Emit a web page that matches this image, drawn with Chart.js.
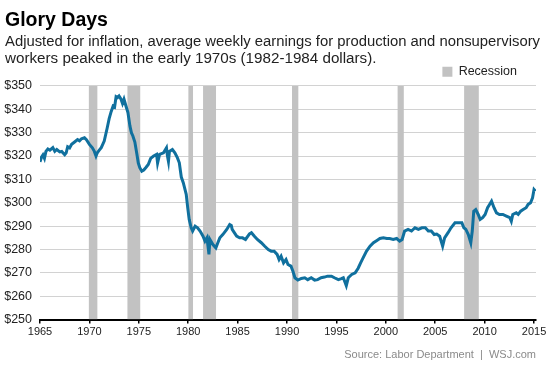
<!DOCTYPE html>
<html>
<head>
<meta charset="utf-8">
<script src="https://cdn.jsdelivr.net/npm/chart.js@4"></script>
<style>
  html, body { margin: 0; padding: 0; background: #fff; }
</style>
</head>
<body>
<canvas id="chart" width="553" height="369"></canvas>
<script>
// Decimal years for the earnings line
const months = [
  1965.0, 1965.15, 1965.3, 1965.45, 1965.6, 1965.8, 1966.0, 1966.3, 1966.5, 1966.7,
  1967.0, 1967.2, 1967.5, 1967.65, 1967.8, 1968.0, 1968.2, 1968.5, 1968.8, 1969.0,
  1969.2, 1969.5, 1969.7, 1970.0, 1970.3, 1970.5, 1970.67, 1970.8, 1971.0, 1971.2,
  1971.5, 1971.8, 1972.0, 1972.2, 1972.4, 1972.55, 1972.7, 1972.85, 1973.0, 1973.2,
  1973.35, 1973.5, 1973.7, 1973.9, 1974.1, 1974.25, 1974.4, 1974.6, 1974.8, 1974.95,
  1975.1, 1975.3, 1975.5, 1975.7, 1975.96, 1976.2, 1976.5, 1976.8, 1976.9, 1977.1,
  1977.5, 1977.8, 1977.9, 1978.0, 1978.1, 1978.4, 1978.65, 1978.9, 1979.1, 1979.3,
  1979.5, 1979.8, 1979.95, 1980.1, 1980.3, 1980.45, 1980.7, 1980.95, 1981.2, 1981.5,
  1981.7, 1981.9, 1982.1, 1982.2, 1982.5, 1982.8, 1983.0, 1983.2, 1983.5, 1983.9,
  1984.2, 1984.36, 1984.45, 1984.7, 1984.9, 1985.2, 1985.5, 1985.8, 1986.2, 1986.4,
  1986.7, 1987.0, 1987.4, 1987.75, 1988.1, 1988.4, 1988.7, 1989.0, 1989.2, 1989.4,
  1989.65, 1989.9, 1990.1, 1990.4, 1990.6, 1990.8, 1991.1, 1991.45, 1991.8, 1992.1,
  1992.45, 1992.8, 1993.1, 1993.45, 1993.8, 1994.1, 1994.5, 1994.8, 1995.2, 1995.5,
  1995.7, 1996.0, 1996.2, 1996.55, 1996.9, 1997.2, 1997.45, 1997.7, 1998.05, 1998.4,
  1998.75, 1999.1, 1999.4, 1999.75, 2000.1, 2000.4, 2000.75, 2001.1, 2001.4, 2001.65,
  2001.9, 2002.25, 2002.6, 2002.95, 2003.3, 2003.65, 2004.0, 2004.3, 2004.6, 2004.9,
  2005.15, 2005.45, 2005.75, 2005.95, 2006.3, 2006.6, 2007.0, 2007.35, 2007.7, 2007.9,
  2008.1, 2008.35, 2008.6, 2008.75, 2008.9, 2009.1, 2009.35, 2009.55, 2009.8, 2010.05,
  2010.3, 2010.5, 2010.7, 2010.95, 2011.2, 2011.5, 2011.85, 2012.2, 2012.55, 2012.7,
  2012.85, 2013.2, 2013.4, 2013.65, 2013.9, 2014.2, 2014.4, 2014.65, 2014.85, 2015.0,
  2015.15
];
// Average weekly earnings, 1982-1984 dollars
const earnings = [
  317.5, 319.5, 320.5, 319.0, 322.0, 323.0, 322.5, 323.6, 322.0, 322.8,
  321.8, 322.0, 320.6, 321.4, 324.0, 323.5, 325.0, 326.0, 327.0, 326.5,
  327.4, 327.8, 327.0, 325.0, 323.5, 322.0, 320.0, 321.4, 322.5, 323.6,
  326.4, 332.0, 336.0, 339.0, 341.4, 341.0, 345.4, 345.0, 345.7, 344.3,
  342.5, 344.3, 341.4, 338.6, 332.9, 330.0, 328.6, 326.0, 321.0, 317.0,
  315.0, 313.5, 314.0, 315.0, 316.4, 319.0, 320.0, 320.7, 317.0, 320.7,
  321.4, 323.5, 320.0, 317.7, 322.0, 322.8, 321.4, 319.3, 317.1, 311.0,
  308.6, 303.6, 297.9, 292.9, 289.3, 287.9, 290.0, 289.3, 287.9, 285.7,
  283.6, 285.0, 277.9, 284.3, 282.1, 280.7, 282.9, 285.0, 286.4, 288.6,
  290.7, 290.3, 288.6, 287.0, 285.7, 285.0, 285.0, 284.3, 286.7, 287.2,
  285.7, 284.3, 282.9, 281.4, 280.0, 279.3, 279.3, 277.9, 275.7, 277.1,
  274.3, 275.7, 273.6, 272.9, 270.7, 267.9, 266.9, 267.6, 267.9, 267.1,
  267.9, 266.9, 267.1, 267.9, 268.2, 268.6, 268.6, 267.9, 267.1, 267.5,
  267.9, 264.5, 267.9, 269.3, 270.0, 272.0, 274.3, 276.4, 279.3, 281.4,
  282.9, 283.9, 284.7, 285.0, 284.7, 284.7, 284.3, 284.7, 283.6, 284.3,
  287.9, 288.6, 287.9, 289.3, 288.6, 289.3, 289.3, 287.9, 287.9, 286.4,
  286.6, 285.7, 281.4, 285.0, 287.2, 289.3, 291.4, 291.4, 291.4, 289.3,
  288.6, 286.4, 282.9, 287.9, 296.4, 297.1, 295.0, 292.9, 293.6, 295.0,
  297.9, 299.3, 300.7, 297.9, 295.7, 295.0, 295.0, 294.3, 293.6, 292.1,
  295.0, 295.7, 295.0, 296.4, 297.1, 297.9, 299.3, 300.0, 302.1, 305.7,
  305.0
];
// Recession periods
const recessionStarts = [1969.92, 1973.83, 1980.0, 1981.5, 1990.5, 2001.17, 2007.92];
const recessionEnds = [1970.83, 1975.17, 1980.5, 1982.83, 1991.17, 2001.83, 2009.42];
// Axis ticks
const xTicks = [1965, 1970, 1975, 1980, 1985, 1990, 1995, 2000, 2005, 2010, 2015];
const yMin = 250;
const yMax = 350;

const FONT = "'Liberation Sans', Arial, Helvetica, sans-serif";

// earnings line points
const lineData = months.map((m, i) => ({ x: m, y: earnings[i] }));

// recession bands: each band is a flat segment at the top, filled down to the axis
const bandData = [];
recessionStarts.forEach((s, i) => {
  bandData.push({ x: s, y: yMax });
  bandData.push({ x: recessionEnds[i], y: yMax });
  bandData.push({ x: recessionEnds[i], y: null });
});

// small layout nudges: legend shorter/up/left, title + subtitle a bit right
const nudge = {
  id: 'nudge',
  beforeLayout(chart) {
    const lg = chart.legend;
    if (lg && !lg._nudged) {
      const fit = lg.fit.bind(lg);
      lg.fit = function () { fit(); this.height -= 4; };
      lg._nudged = true;
    }
  },
  afterLayout(chart) {
    const lg = chart.legend;
    chart.boxes.forEach(b => {
      if (b === lg) {
        b.left -= 19; b.right -= 19;
        b.top -= 2; b.bottom -= 2;
      } else if (!b.axis && b.position === 'top') {
        b.left += 4; b.right += 4;
      }
    });
  }
};

new Chart(document.getElementById('chart'), {
  type: 'line',
  data: {
    datasets: [
      {
        label: 'Earnings',
        data: lineData,
        borderColor: '#10709e',
        borderWidth: 3,
        pointRadius: 0,
        fill: false,
        tension: 0
      },
      {
        label: 'Recession',
        data: bandData,
        backgroundColor: '#c2c2c2',
        borderColor: '#c2c2c2',
        borderWidth: 0,
        pointRadius: 0,
        fill: 'start',
        spanGaps: false
      }
    ]
  },
  plugins: [nudge],
  options: {
    responsive: false,
    animation: false,
    events: [],
    layout: {
      padding: { left: 1, right: 17, top: 0, bottom: 7 }
    },
    plugins: {
      title: {
        display: true,
        text: 'Glory Days',
        align: 'start',
        color: '#000',
        font: { family: FONT, size: 19.5, weight: 'bold' },
        padding: { top: 9, bottom: 1 }
      },
      subtitle: {
        display: true,
        text: [
          'Adjusted for inflation, average weekly earnings for production and nonsupervisory',
          'workers peaked in the early 1970s (1982-1984 dollars).'
        ],
        align: 'start',
        color: '#222',
        font: { family: FONT, size: 15.2, lineHeight: 1.12 },
        padding: { top: 0, bottom: 0 }
      },
      legend: {
        display: true,
        position: 'top',
        align: 'end',
        labels: {
          boxWidth: 10,
          boxHeight: 10,
          color: '#222',
          font: { family: FONT, size: 12.5 },
          padding: 0,
          filter: item => item.text === 'Recession'
        }
      },
      tooltip: { enabled: false }
    },
    scales: {
      x: {
        type: 'linear',
        min: 1965,
        max: 2015.2,
        afterBuildTicks: scale => {
          scale.ticks = xTicks.map(v => ({ value: v }));
        },
        grid: {
          drawOnChartArea: false,
          drawTicks: true,
          tickLength: 4,
          color: '#000',
          lineWidth: 1.5
        },
        border: { display: true, color: '#000', width: 2 },
        ticks: {
          color: '#222',
          font: { family: FONT, size: 11 },
          padding: 2,
          maxRotation: 0,
          callback: v => String(v)
        },
        title: {
          display: true,
          text: 'Source: Labor Department  |  WSJ.com',
          align: 'end',
          color: '#8a8a8a',
          font: { family: FONT, size: 11 },
          padding: { top: 8, bottom: 0 }
        }
      },
      y: {
        min: yMin,
        max: yMax,
        afterFit: scale => { scale.width = 39; },
        ticks: {
          stepSize: 10,
          color: '#222',
          font: { family: FONT, size: 12.5 },
          padding: 8,
          callback: v => '$' + v
        },
        grid: {
          color: '#d2d2d2',
          lineWidth: 1,
          drawTicks: false
        },
        border: { display: false }
      }
    }
  }
});
</script>
</body>
</html>
